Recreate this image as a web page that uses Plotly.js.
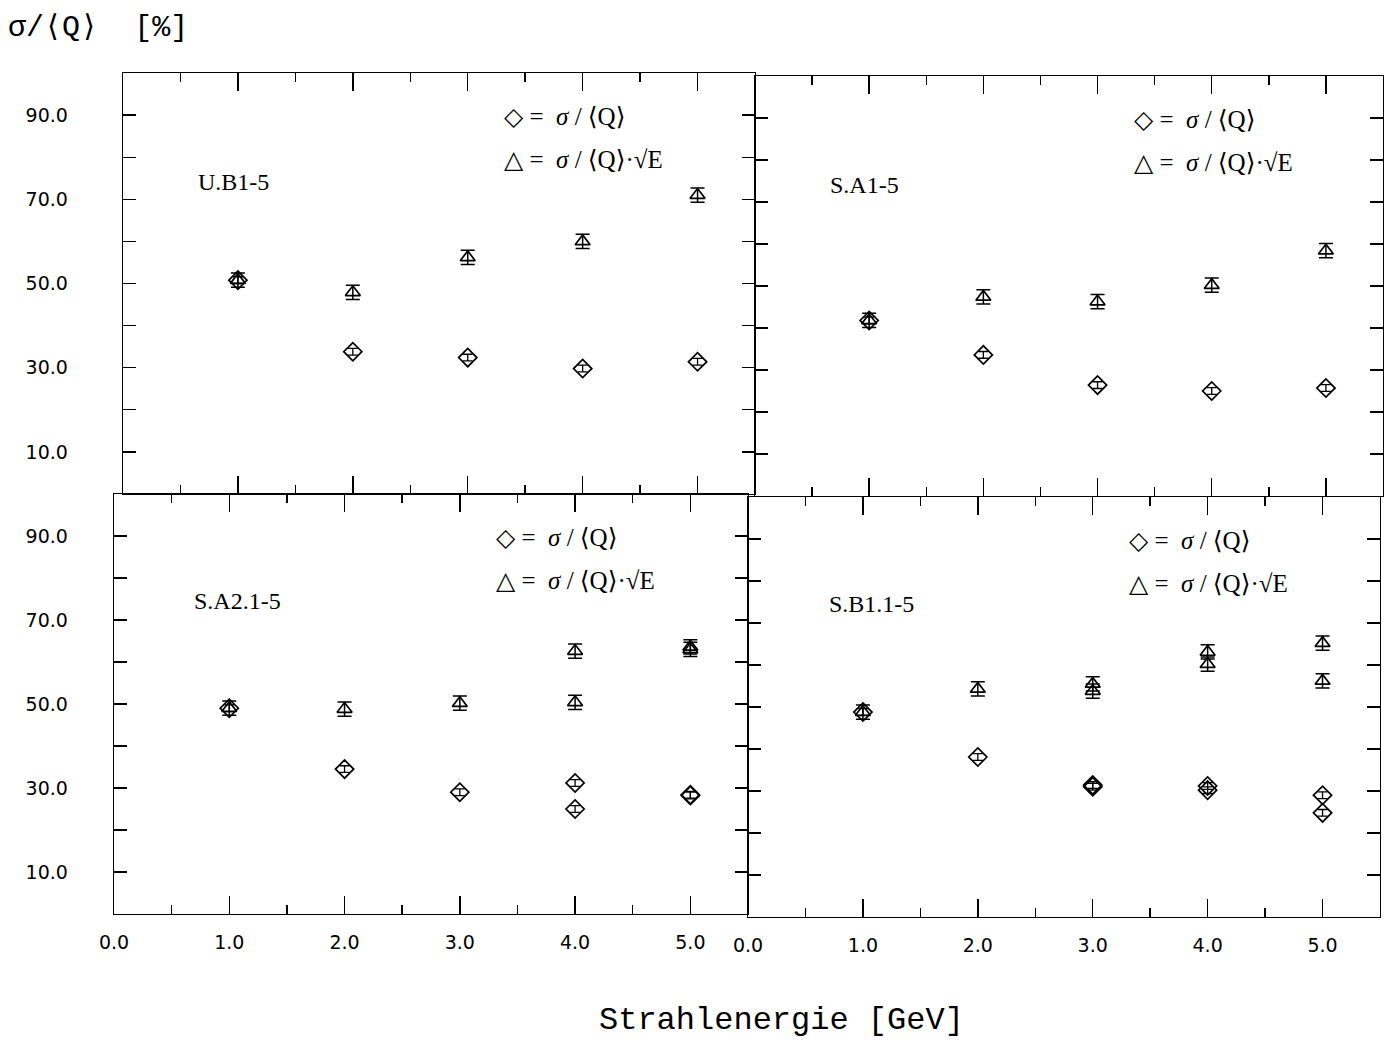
<!DOCTYPE html>
<html>
<head>
<meta charset="utf-8">
<script src="https://cdn.plot.ly/plotly-3.0.1.min.js"></script>
<style>html,body{margin:0;padding:0;background:#fff;}#plot{width:1392px;height:1041px;}</style>
</head>
<body>
<div id="plot"></div>
<script>
// ---- Data ----
// Panel U.B1-5
const ubE      = [1, 2, 3, 4, 5];
const ubSig    = [50.8, 33.8, 32.4, 29.8, 31.4];
const ubSigE   = [50.8, 47.9, 56.2, 60.0, 71.0];
// Panel S.A1-5
const saE      = [1, 2, 3, 4, 5];
const saSig    = [41.8, 33.6, 26.4, 25.0, 25.7];
const saSigE   = [41.8, 47.4, 46.3, 50.2, 58.4];
// Panel S.A2.1-5
const sa2E     = [1, 2, 3, 4, 4, 5, 5];
const sa2Sig   = [49.0, 34.5, 29.0, 31.2, 25.0, 28.4, 28.2];
const sa2SigE  = [49.0, 48.8, 50.2, 62.6, 50.4, 63.6, 63.0];
// Panel S.B1.1-5
const sb1E     = [1, 2, 3, 3, 4, 4, 5, 5];
const sb1Sig   = [48.8, 38.1, 31.4, 31.0, 31.2, 30.2, 29.0, 24.8];
const sb1SigE  = [48.8, 54.3, 55.5, 53.8, 63.1, 60.2, 65.2, 56.2];
// Errors
const errSig  = 0.8;
const errSigE = 1.7;

const panelNames = ['U.B1-5', 'S.A1-5', 'S.A2.1-5', 'S.B1.1-5'];
const yTickVals  = [10, 20, 30, 40, 50, 60, 70, 80, 90];
const yTickText  = ['10.0', '', '30.0', '', '50.0', '', '70.0', '', '90.0'];
const legendSig  = '\u25C7 =&nbsp; <i>σ</i> / ⟨Q⟩';
const legendSigE = '\u25B3 =&nbsp; <i>σ</i> / ⟨Q⟩·√E';
const yTitle = 'σ/⟨Q⟩&nbsp; [%]';
const xTitle = 'Strahlenergie [GeV]';

// ---- Build traces ----
const panels = [
  {E: ubE,  s: ubSig,  se: ubSigE},
  {E: saE,  s: saSig,  se: saSigE},
  {E: sa2E, s: sa2Sig, se: sa2SigE},
  {E: sb1E, s: sb1Sig, se: sb1SigE}
];
const traces = [];
panels.forEach((p, i) => {
  const xa = i === 0 ? 'x' : 'x' + (i + 1);
  const ya = i === 0 ? 'y' : 'y' + (i + 1);
  traces.push({
    type: 'scatter', mode: 'markers', x: p.E, y: p.se, xaxis: xa, yaxis: ya,
    marker: {symbol: 'triangle-up-open', size: 13, color: '#000', line: {width: 1.7, color: '#000'}},
    error_y: {type: 'data', array: p.se.map(() => errSigE), visible: true, color: '#000', thickness: 1.5, width: 7},
    hoverinfo: 'x+y'
  });
  traces.push({
    type: 'scatter', mode: 'markers', x: p.E, y: p.s, xaxis: xa, yaxis: ya,
    marker: {symbol: 'diamond-open', size: 14, color: '#000', line: {width: 1.7, color: '#000'}},
    error_y: {type: 'data', array: p.s.map(() => errSig), visible: true, color: '#000', thickness: 1.3, width: 5},
    hoverinfo: 'x+y'
  });
});

// ---- Layout ----
const W = 1392, H = 1041;
function dx(a, b) { return [a / W, b / W]; }
function dy(top, bottom) { return [1 - bottom / H, 1 - top / H]; }
// panel pixel boxes [left, right, top, bottom]
const boxes = [
  [123, 755, 73, 494],
  [755, 1383, 76, 496],
  [114, 748, 494, 914],
  [748, 1380, 497, 917]
];
const tickFont = {family: 'DejaVu Sans, Liberation Sans, sans-serif', size: 19, color: '#000'};
function xAxis(i, labels) {
  const b = boxes[i];
  return {
    domain: dx(b[0], b[1]), anchor: i === 0 ? 'y' : 'y' + (i + 1),
    range: [0, 5.5], tick0: 0, dtick: 1, tickformat: '.1f',
    ticks: 'inside', ticklen: 18, tickwidth: 1.4, tickcolor: '#000',
    minor: {tick0: 0, dtick: 0.5, ticks: 'inside', ticklen: 9, tickwidth: 1.4, tickcolor: '#000'},
    showline: true, linewidth: 1.3, linecolor: '#000', mirror: 'ticks',
    showgrid: false, zeroline: false, showticklabels: labels,
    tickfont: tickFont, ticklabelstandoff: 11, fixedrange: true
  };
}
function yAxis(i, labels, standoff) {
  const b = boxes[i];
  return {
    domain: dy(b[2], b[3]), anchor: i === 0 ? 'x' : 'x' + (i + 1),
    range: [0, 100], tickmode: 'array', tickvals: yTickVals, ticktext: yTickText,
    ticks: 'inside', ticklen: 13, tickwidth: 1.4, tickcolor: '#000',
    showline: true, linewidth: 1.3, linecolor: '#000', mirror: 'ticks',
    showgrid: false, zeroline: false, showticklabels: labels,
    tickfont: tickFont, ticklabelstandoff: standoff, fixedrange: true
  };
}

const annotations = [];
const legFont = {family: 'Liberation Serif, DejaVu Serif, serif', size: 25, color: '#000'};
const nameFont = {family: 'Liberation Serif, DejaVu Serif, serif', size: 24, color: '#000'};
const nameY = [0.74, 0.74, 0.745, 0.745];
const nameX = [0.115, 0.117, 0.123, 0.125];
for (let i = 0; i < 4; i++) {
  const xr = (i === 0 ? 'x' : 'x' + (i + 1)) + ' domain';
  const yr = (i === 0 ? 'y' : 'y' + (i + 1)) + ' domain';
  annotations.push({xref: xr, yref: yr, x: 0.6, y: 0.897, xanchor: 'left', yanchor: 'middle', text: legendSig, showarrow: false, font: legFont});
  annotations.push({xref: xr, yref: yr, x: 0.6, y: 0.795, xanchor: 'left', yanchor: 'middle', text: legendSigE, showarrow: false, font: legFont});
  annotations.push({xref: xr, yref: yr, x: nameX[i], y: nameY[i], xanchor: 'left', yanchor: 'middle', text: panelNames[i], showarrow: false, font: nameFont});
}
annotations.push({xref: 'paper', yref: 'paper', x: 6 / W, y: 1 - 28 / H, xanchor: 'left', yanchor: 'middle', text: yTitle, showarrow: false, font: {family: 'Liberation Mono, DejaVu Sans Mono, monospace', size: 30, color: '#000'}});
annotations.push({xref: 'paper', yref: 'paper', x: 781 / W, y: 1 - 1020 / H, xanchor: 'center', yanchor: 'middle', text: xTitle, showarrow: false, font: {family: 'Liberation Mono, DejaVu Sans Mono, monospace', size: 32, color: '#000'}});

const layout = {
  width: W, height: H,
  margin: {l: 0, r: 0, t: 0, b: 0},
  paper_bgcolor: '#fff', plot_bgcolor: 'rgba(0,0,0,0)',
  showlegend: false,
  xaxis: xAxis(0, false), yaxis: yAxis(0, true, 50),
  xaxis2: xAxis(1, false), yaxis2: yAxis(1, false, 0),
  xaxis3: xAxis(2, true), yaxis3: yAxis(2, true, 41),
  xaxis4: xAxis(3, true), yaxis4: yAxis(3, false, 0),
  annotations: annotations
};

Plotly.newPlot('plot', traces, layout, {displayModeBar: false, staticPlot: true});
</script>
</body>
</html>
